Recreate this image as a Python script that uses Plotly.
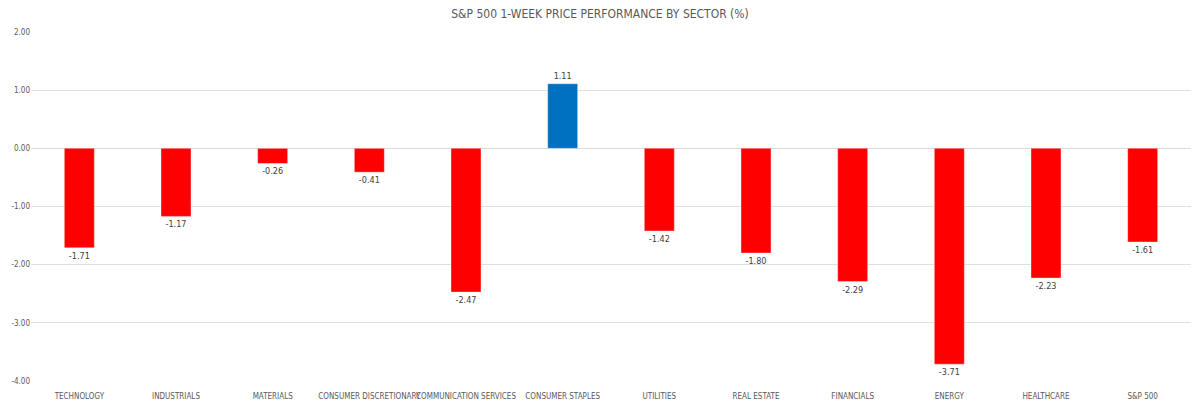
import plotly.graph_objects as go

categories = ["TECHNOLOGY", "INDUSTRIALS", "MATERIALS", "CONSUMER DISCRETIONARY",
              "COMMUNICATION SERVICES", "CONSUMER STAPLES", "UTILITIES", "REAL ESTATE",
              "FINANCIALS", "ENERGY", "HEALTHCARE", "S&P 500"]
values = [-1.71, -1.17, -0.26, -0.41, -2.47, 1.11, -1.42, -1.80, -2.29, -3.71, -2.23, -1.61]
tick_vals = [2, 1, 0, -1, -2, -3, -4]
tick_text = ["2.00", "1.00", "0.00", "-1.00", "-2.00", "-3.00", "-4.00"]

colors = ["#0070C0" if v > 0 else "#FF0000" for v in values]
FONT = "DejaVu Sans Condensed"

fig = go.Figure(go.Bar(
    x=categories, y=values,
    marker=dict(color=colors, line=dict(color="rgba(255,255,255,0.35)", width=1)),
    width=0.31,
    text=[f"{v:.2f}" for v in values],
    textposition="outside",
    textfont=dict(size=9, color="#404040", family=FONT),
    cliponaxis=False,
))

fig.update_layout(
    width=1200, height=407,
    margin=dict(l=31, r=9, t=32, b=26),
    paper_bgcolor="white", plot_bgcolor="white",
    title=dict(text="S&P 500 1-WEEK PRICE PERFORMANCE BY SECTOR (%)",
               x=0.5, xanchor="center", y=0.965, yanchor="middle",
               font=dict(size=12, color="#595959", family=FONT)),
    showlegend=False,
    font=dict(family=FONT),
)
fig.update_yaxes(range=[-4, 2], tickvals=tick_vals, ticktext=tick_text,
                 showgrid=True, gridcolor="#e0e0e0", gridwidth=1,
                 zeroline=True, zerolinecolor="#d9d9d9", zerolinewidth=1,
                 tickfont=dict(size=8, color="#595959", family=FONT), ticks="",
                 showline=False, automargin=False)
fig.update_xaxes(tickfont=dict(size=8, color="#595959", family=FONT),
                 showline=False, ticks="", tickangle=0, ticklabelstandoff=9,
                 automargin=False)

fig.write_html("out.html")
